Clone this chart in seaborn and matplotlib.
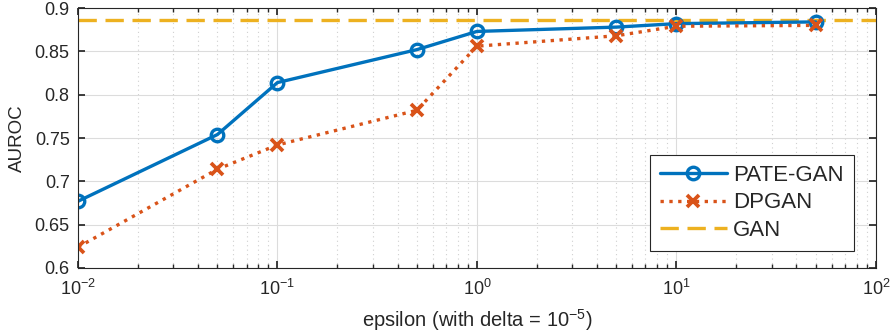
import pandas as pd
import seaborn as sns
import matplotlib.pyplot as plt
from matplotlib.ticker import LogLocator, NullFormatter

# Data
epsilon = [0.01, 0.05, 0.1, 0.5, 1, 5, 10, 50]
pate_gan = [0.677, 0.754, 0.814, 0.852, 0.873, 0.878, 0.882, 0.884]
dpgan = [0.624, 0.714, 0.742, 0.782, 0.856, 0.868, 0.879, 0.880]
gan = 0.886

sns.set_theme(style="ticks")
plt.rcParams['font.family'] = ['Liberation Sans', 'DejaVu Sans']
plt.rcParams['mathtext.fontset'] = 'custom'
plt.rcParams['mathtext.rm'] = 'Liberation Sans'
plt.rcParams['mathtext.it'] = 'Liberation Sans:italic'
plt.rcParams['mathtext.bf'] = 'Liberation Sans:bold'
plt.rcParams['mathtext.default'] = 'regular'

fig = plt.figure(figsize=(8.91, 3.35), dpi=100)
ax = fig.add_axes([0.0875, 0.2, 0.8955, 0.776])

df_pate = pd.DataFrame({"epsilon": epsilon, "auroc": pate_gan})
df_dp = pd.DataFrame({"epsilon": epsilon, "auroc": dpgan})

blue = "#0072BD"
orange = "#D95319"
yellow = "#EDB120"

sns.lineplot(data=df_pate, x="epsilon", y="auroc", ax=ax, color=blue, lw=2.4,
             marker="o", markersize=9, markerfacecolor="none", markeredgecolor=blue,
             markeredgewidth=2.4, label="PATE-GAN")
sns.lineplot(data=df_dp, x="epsilon", y="auroc", ax=ax, color=orange, lw=2.4,
             linestyle=":", marker="x", markersize=9, markeredgecolor=orange,
             markeredgewidth=2.7, label="DPGAN")
ax.axhline(gan, color=yellow, lw=2.4, linestyle=(0, (5.5, 2.6)), label="GAN", zorder=1)

ax.set_xscale("log")
ax.set_xlim(1e-2, 1e2)
ax.set_ylim(0.6, 0.9)
ax.set_yticks([0.6, 0.65, 0.7, 0.75, 0.8, 0.85, 0.9])
ax.set_yticklabels(["0.6", "0.65", "0.7", "0.75", "0.8", "0.85", "0.9"])
ax.set_xticks([1e-2, 1e-1, 1, 10, 100])
ax.set_xticklabels(["$10^{-2}$", "$10^{-1}$", "$10^{0}$", "$10^{1}$", "$10^{2}$"])
ax.xaxis.set_minor_locator(LogLocator(base=10, subs=range(2, 10)))
ax.xaxis.set_minor_formatter(NullFormatter())

ax.grid(True, which="major", color="#dcdcdc", lw=0.8)
ax.grid(True, which="minor", axis="x", color="#d0d0d0", lw=0.8, linestyle=(0, (1, 3)))
ax.set_axisbelow(True)

ax.tick_params(which="both", direction="in", top=True, right=True, labelsize=13, colors="#262626")
ax.tick_params(which="major", length=5)
ax.tick_params(which="minor", length=3)
ax.tick_params(axis="x", which="major", pad=8)
ax.tick_params(axis="y", which="major", pad=6)
for s in ax.spines.values():
    s.set_color("#262626")
    s.set_linewidth(0.8)

ax.set_xlabel("epsilon (with delta = $10^{-5}$)", fontsize=14.5, color="#262626", labelpad=6)
ax.set_ylabel("AUROC", fontsize=13.5, color="#262626", labelpad=6)

leg = ax.legend(loc="lower right", fontsize=16, frameon=True, fancybox=False,
                edgecolor="#262626", framealpha=1, handlelength=3.0,
                bbox_to_anchor=(0.9725, 0.065), borderpad=0.45, labelspacing=0.3,
                handletextpad=0.3, borderaxespad=0)
leg.get_frame().set_linewidth(0.8)

fig.savefig("out.png", dpi=100)
